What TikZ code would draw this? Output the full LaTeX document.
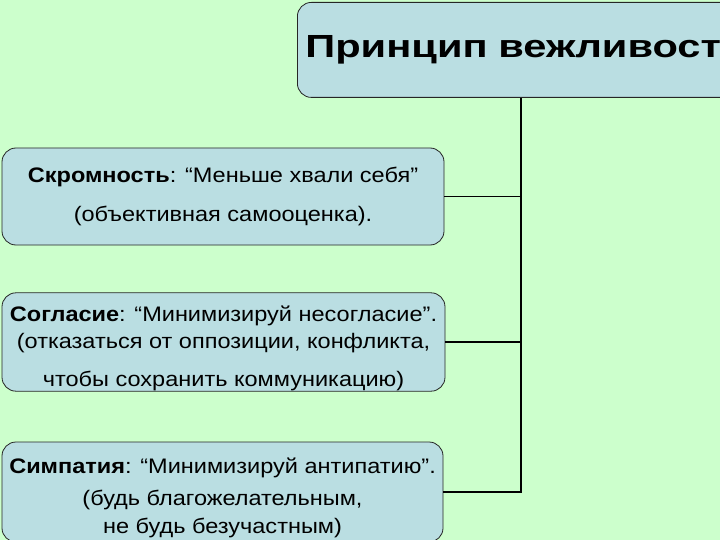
\documentclass[tikz,border=0pt]{standalone}
\usepackage{fontspec}
\setmainfont[FakeStretch=1.12]{Liberation Sans}
\newfontfamily\titlefont[FakeStretch=1.3]{Liberation Sans}
\definecolor{bggreen}{RGB}{204,255,204}
\definecolor{boxblue}{RGB}{186,222,226}
\tikzset{
  tbox/.style={draw=black!85, fill=boxblue, rounded corners=14pt, line width=0.8pt, align=center, font=\fontsize{21}{25}\selectfont, inner sep=0pt},
  conn/.style={draw=black, line width=1.6pt}
}
\begin{document}
\begin{tikzpicture}[x=1pt,y=-1pt]
  \useasboundingbox (0,0) rectangle (720,540);
  \fill[bggreen] (0,0) rectangle (720,540);
  \clip (0,0) rectangle (720,540);
  % title box, cut at the right edge
  \node[tbox, anchor=north west, minimum width=480pt, minimum height=95pt, align=left, text width=464pt, inner xsep=8pt, font=\titlefont\fontsize{32}{36}\selectfont\bfseries] (title) at (297,2) {Принцип вежливости};
  \coordinate (top) at ([xshift=224pt]title.south west);
  \node[tbox, minimum width=442pt, minimum height=97pt] (skr) at (223,196.5)
    {\textbf{Скромность}: “Меньше хвали себя”\\[14pt] (объективная самооценка).};
  \node[tbox, minimum width=443pt, minimum height=95pt] (sogl) at (223.5,342)
    {\rule{0pt}{29pt}\textbf{Согласие}: “Минимизируй несогласие”.\\[2pt] (отказаться от оппозиции, конфликта,\\[13pt] чтобы сохранить коммуникацию)};
  \node[tbox, minimum width=441pt, minimum height=100pt] (simp) at (222.5,492)
    {\rule{0pt}{27pt}\textbf{Симпатия}: “Минимизируй антипатию”.\\[7pt] (будь благожелательным,\\[3pt] не будь безучастным)};
  % connectors
  \draw[conn] (top) |- (simp.east);
  \draw[conn] (skr.east) -- (skr.east -| top);
  \draw[conn] (sogl.east) -- (sogl.east -| top);
\end{tikzpicture}
\end{document}
